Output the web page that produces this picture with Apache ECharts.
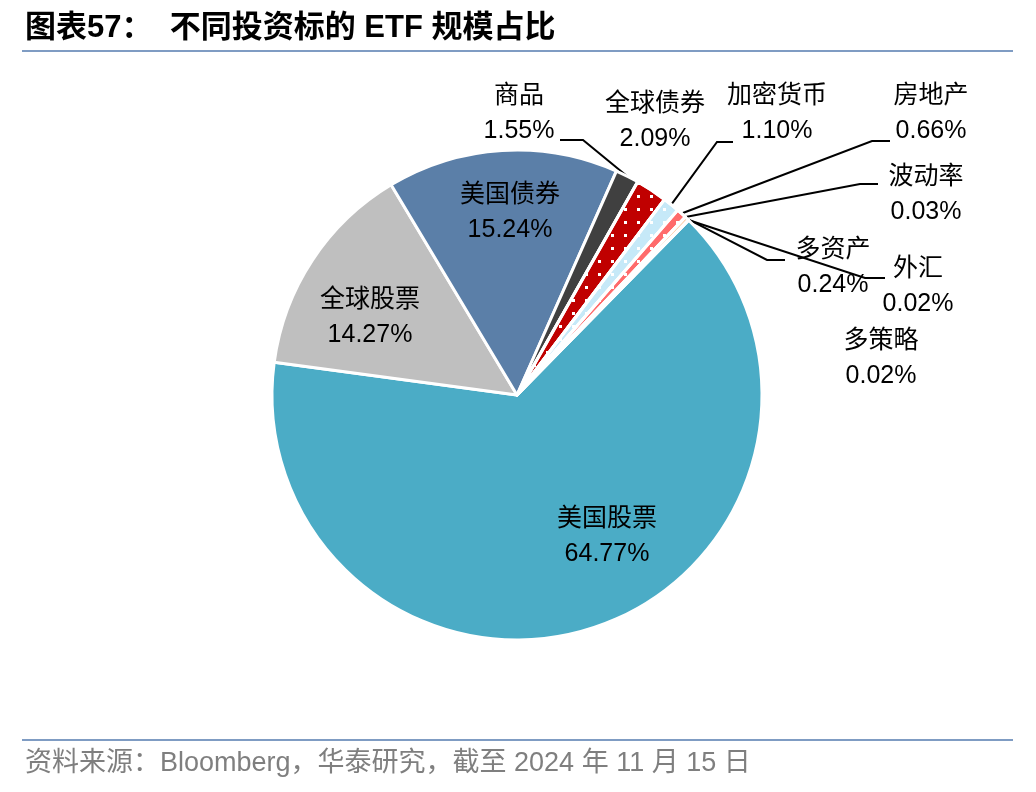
<!DOCTYPE html>
<html>
<head>
<meta charset="utf-8">
<script src="https://cdn.jsdelivr.net/npm/echarts@6/dist/echarts.min.js"></script>
<style>html,body{margin:0;padding:0;background:#fff}#c{width:1036px;height:792px}</style>
</head>
<body>
<div id="c"></div>
<script>
// ---- data ----
const categories = ['美国股票','全球股票','美国债券','商品','全球债券','加密货币','房地产','波动率','多资产','外汇','多策略'];
const shares = [64.77, 14.27, 15.24, 1.55, 2.09, 1.10, 0.66, 0.03, 0.24, 0.02, 0.02];
const titleText = '图表57：  不同投资标的 ETF 规模占比';
const sourceText = '资料来源：Bloomberg，华泰研究，截至 2024 年 11 月 15 日';

// ---- styles / layout ----
const colors = ['#4bacc6','#bfbfbf','#5b7fa8','#404040','#c00000','#c6e9f8','#ff6b6b','#8064a2','#f79646','#9bbb59','#1f497d'];
const dotted = {'全球债券':1,'加密货币':1,'房地产':1};
const labelPos = {
  '美国股票':[607,537], '全球股票':[370,318], '美国债券':[510,213],
  '商品':[519,114], '全球债券':[655,122], '加密货币':[777,114], '房地产':[931,114],
  '波动率':[926,195], '多资产':[833,268], '外汇':[918,287], '多策略':[881,359]
};
const leader = {
  '商品':[[583,140],[560,140]],
  '加密货币':[[717,142],[733,142]],
  '房地产':[[872,141],[890,141]],
  '波动率':[[860,184],[878,184]],
  '多资产':[[767,260],[785,260]],
  '外汇':[[865,278],[885,278]]
};

const FONT = '"Liberation Sans", "Noto Sans CJK SC", sans-serif';
const data = categories.map((n,i)=>{
  const item = {name:n, value:shares[i], itemStyle:{color:colors[i]}};
  if (dotted[n]) item.itemStyle.decal = {symbol:'rect', symbolSize:1, color:'#ffffff', dashArrayX:[3,10], dashArrayY:[3,10], rotation:0};
  if (!leader[n]) item.labelLine = {show:false};
  return item;
});

const chart = echarts.init(document.getElementById('c'));
chart.setOption({
  animation:false,
  graphic:[
    {type:'text', left:25, top:13, style:{text:titleText, font:'bold 31px '+FONT, fill:'#000'}},
    {type:'line', shape:{x1:22,y1:51,x2:1013,y2:51}, style:{stroke:'#7f9cc3', lineWidth:2}},
    {type:'line', shape:{x1:22,y1:740,x2:1013,y2:740}, style:{stroke:'#7f9cc3', lineWidth:2}},
    {type:'text', left:25, top:750, style:{text:sourceText, font:'27px '+FONT, fill:'#7f7f7f'}}
  ],
  series:[{
    type:'pie',
    center:[517,395],
    radius:[0,245],
    startAngle:45.5,
    clockwise:true,
    avoidLabelOverlap:false,
    itemStyle:{borderColor:'#fff', borderWidth:3},
    label:{
      show:true, position:'outside', color:'#000', fontFamily:FONT, fontSize:25, lineHeight:35,
      align:'center',
      formatter:p=>p.name+'\n'+p.value.toFixed(2)+'%'
    },
    labelLine:{show:true, lineStyle:{color:'#000', width:2}},
    labelLayout:function(params){
      const n = categories[params.dataIndex];
      const pos = labelPos[n];
      const res = {x:pos[0], y:pos[1], align:'center', verticalAlign:'middle'};
      if (leader[n] && params.labelLinePoints) {
        res.labelLinePoints = [params.labelLinePoints[0], leader[n][0], leader[n][1]];
      }
      return res;
    },
    data:data
  }]
});
</script>
</body>
</html>
